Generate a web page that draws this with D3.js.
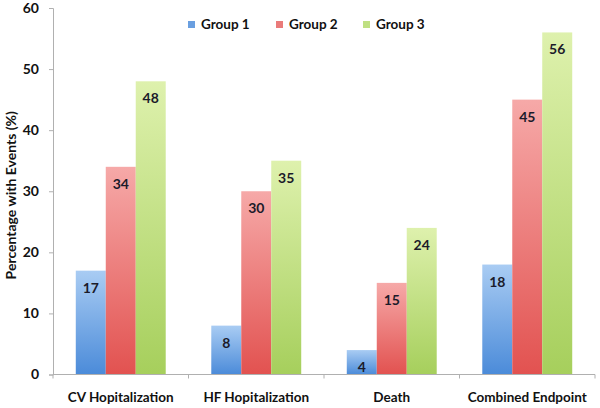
<!DOCTYPE html>
<html><head><meta charset="utf-8">
<script src="https://cdn.jsdelivr.net/npm/d3@7"></script>
<style>body{margin:0;background:#fff}svg{display:block}</style>
</head><body>
<svg id="c" width="600" height="408"></svg>
<script>
const categories = ["CV Hopitalization", "HF Hopitalization", "Death", "Combined Endpoint"];
const seriesNames = ["Group 1", "Group 2", "Group 3"];
const group1 = [17, 8, 4, 18];
const group2 = [34, 30, 15, 45];
const group3 = [48, 35, 24, 56];
const yTicks = [0, 10, 20, 30, 40, 50, 60];
const seriesValues = [group1, group2, group3];
const colorsTop = ["#a9ccf3", "#f6a9a8", "#def1ad"];
const colorsBot = ["#4b8bd9", "#e25250", "#a6cf5c"];
const legendColors = ["#6a9fe0", "#ea7b7a", "#bfe082"];

const svg = d3.select("#c");
const font = "Lato, 'Open Sans', sans-serif";
const m = {l: 53, r: 5, t: 8, b: 33};
const W = 600, H = 408;
const x0 = d3.scaleBand().domain(categories).range([m.l, W - m.r]).paddingInner(0).paddingOuter(0);
const x1 = d3.scaleBand().domain(seriesNames).range([0, x0.bandwidth()]).paddingInner(0).paddingOuter(0.76);
const y = d3.scaleLinear().domain([0, 60]).range([H - m.b - 0.5, m.t]);

const defs = svg.append("defs");
seriesNames.forEach((s, i) => {
  const g = defs.append("linearGradient").attr("id", "g" + i).attr("x1", 0).attr("y1", 0).attr("x2", 0).attr("y2", 1);
  g.append("stop").attr("offset", "0%").attr("stop-color", colorsTop[i]);
  g.append("stop").attr("offset", "100%").attr("stop-color", colorsBot[i]);
});

// bars
categories.forEach((c, ci) => {
  seriesNames.forEach((s, si) => {
    const v = seriesValues[si][ci];
    svg.append("rect")
      .attr("x", x0(c) + x1(s))
      .attr("y", y(v))
      .attr("width", x1.bandwidth())
      .attr("height", y(0) - y(v))
      .attr("fill", `url(#g${si})`);
    svg.append("text")
      .attr("x", x0(c) + x1(s) + x1.bandwidth() / 2)
      .attr("y", y(v) + 22)
      .attr("text-anchor", "middle")
      .attr("font-family", font).attr("font-weight", "bold").attr("font-size", 14)
      .attr("fill", "#1b1b2a")
      .text(v);
  });
});

// y axis
const yAxis = svg.append("g").attr("transform", `translate(${m.l},0)`)
  .call(d3.axisLeft(y).tickValues(yTicks).tickSize(4).tickPadding(10));
yAxis.select(".domain").attr("stroke", "#b0b0b0");
yAxis.selectAll(".tick line").attr("stroke", "#b0b0b0");
yAxis.selectAll("text").attr("font-family", font).attr("font-weight", "bold").attr("font-size", 14).attr("fill", "#111");

// x axis
const xg = svg.append("g").attr("transform", `translate(0,${y(0)})`);
xg.append("line").attr("x1", m.l).attr("x2", W - m.r).attr("stroke", "#b0b0b0");
const bounds = categories.map(c => x0(c)).concat([x0(categories[categories.length - 1]) + x0.bandwidth()]);
bounds.forEach(b => xg.append("line").attr("x1", b).attr("x2", b).attr("y1", 0).attr("y2", 4).attr("stroke", "#b0b0b0"));
categories.forEach(c => {
  xg.append("text").attr("x", x0(c) + x0.bandwidth() / 2).attr("y", 27)
    .attr("text-anchor", "middle").attr("font-family", font).attr("font-weight", "bold").attr("font-size", 13.5)
    .attr("fill", "#111").text(c);
});

// y title
svg.append("text").attr("transform", `translate(16,${(y(0) + y(60)) / 2 + 4}) rotate(-90)`)
  .attr("text-anchor", "middle").attr("font-family", font).attr("font-weight", "bold").attr("font-size", 14)
  .attr("fill", "#111").text("Percentage with Events (%)");

// legend
const legX = [188, 276, 363];
seriesNames.forEach((s, i) => {
  svg.append("rect").attr("x", legX[i]).attr("y", 21).attr("width", 7).attr("height", 7).attr("fill", legendColors[i]);
  svg.append("text").attr("x", legX[i] + 13).attr("y", 29).attr("font-family", font).attr("font-weight", "bold")
    .attr("font-size", 13.5).attr("fill", "#111").text(s);
});
</script>
</body></html>
